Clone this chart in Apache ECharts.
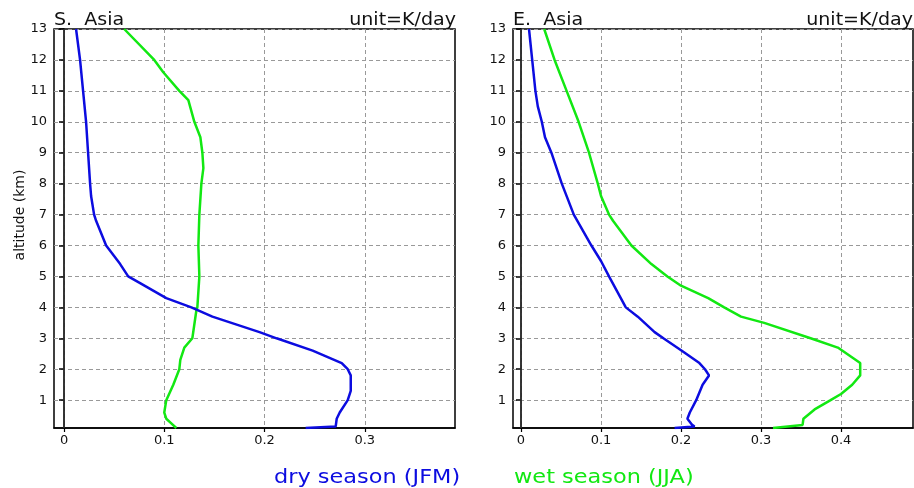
<!DOCTYPE html>
<html><head><meta charset="utf-8">
<script src="https://cdn.jsdelivr.net/npm/echarts@6/dist/echarts.min.js"></script>
<style>html,body{margin:0;padding:0;background:#fff}#c{width:914px;height:488px}</style>
</head><body><div id="c"></div>
<script>
// S. Asia, dry season (JFM)
const sDryAlt = [13, 12, 11, 10, 9, 8, 7.6, 7, 6.8, 6, 5.4, 5, 4.8, 4.3, 4, 3.7, 3.2, 3, 2.6, 2.2, 2, 1.8, 1.3, 1, 0.6, 0.4, 0.15, 0.1];
const sDryVal = [0.012, 0.016, 0.019, 0.022, 0.024, 0.026, 0.027, 0.030, 0.032, 0.042, 0.056, 0.064, 0.075, 0.102, 0.127, 0.148, 0.195, 0.212, 0.248, 0.277, 0.283, 0.286, 0.286, 0.283, 0.275, 0.272, 0.271, 0.241];
// S. Asia, wet season (JJA)
const sWetAlt = [13, 12, 11.6, 11, 10.7, 10, 9.5, 9, 8.5, 8, 7, 6, 5, 4, 3.9, 3, 2.7, 2.3, 2, 1.5, 1, 0.6, 0.4, 0.25, 0.1];
const sWetVal = [0.060, 0.090, 0.099, 0.115, 0.124, 0.130, 0.136, 0.138, 0.139, 0.137, 0.135, 0.134, 0.135, 0.133, 0.132, 0.128, 0.120, 0.116, 0.115, 0.109, 0.102, 0.100, 0.102, 0.107, 0.112];
// E. Asia, dry season (JFM)
const eDryAlt = [13, 12, 11, 10.5, 10, 9.5, 9, 8, 7, 6, 5.5, 5, 4, 3.7, 3.2, 3, 2.6, 2.2, 2, 1.8, 1.5, 1, 0.6, 0.4, 0.2, 0.15, 0.1];
const eDryVal = [0.010, 0.014, 0.018, 0.021, 0.026, 0.030, 0.038, 0.051, 0.066, 0.088, 0.100, 0.110, 0.131, 0.146, 0.167, 0.178, 0.201, 0.223, 0.230, 0.235, 0.227, 0.219, 0.211, 0.208, 0.214, 0.217, 0.192];
// E. Asia, wet season (JJA)
const eWetAlt = [13, 12, 11, 10, 9, 8, 7.6, 7, 6.8, 6, 5.4, 5, 4.7, 4.3, 4, 3.7, 3.5, 3, 2.7, 2.2, 2, 1.8, 1.5, 1.2, 1, 0.7, 0.4, 0.2, 0.15, 0.1];
const eWetVal = [0.029, 0.042, 0.057, 0.072, 0.085, 0.096, 0.100, 0.110, 0.115, 0.138, 0.163, 0.183, 0.200, 0.234, 0.254, 0.275, 0.304, 0.362, 0.396, 0.424, 0.424, 0.424, 0.414, 0.400, 0.387, 0.367, 0.353, 0.352, 0.354, 0.315];

const altTicks = [1,2,3,4,5,6,7,8,9,10,11,12,13];
const sXTicks = [0, 0.1, 0.2, 0.3];
const eXTicks = [0, 0.1, 0.2, 0.3, 0.4];
const panelTitles = ['S.  Asia', 'E.  Asia'];
const unitLabel = 'unit=K/day';
const yName = 'altitude (km)';
const legendDry = 'dry season (JFM)';
const legendWet = 'wet season (JJA)';

const BLUE = '#0c0ce0', GREEN = '#12e812';
const FONT = 'DejaVu Sans';
const zip = (v, a) => v.map((x, i) => [x, a[i]]);
const fmt = v => (Math.abs(v) < 1e-9 ? '0' : (+v.toFixed(2)).toString());

function xAxis(idx, max, ticks) {
  return {
    type: 'value', gridIndex: idx, min: -0.01, max: max,
    axisLine: {show: true, lineStyle: {color: '#000', width: 1.5}},
    axisTick: {show: true, customValues: ticks, length: 4, lineStyle: {color: '#000', width: 1.2}},
    axisLabel: {customValues: ticks, formatter: fmt, color: '#111', fontFamily: FONT, fontSize: 13, margin: 6},
    splitLine: {show: true, lineStyle: {color: '#999', type: [4, 3], width: 1}}
  };
}
function yAxis(idx) {
  return {
    type: 'value', gridIndex: idx, min: 0.1, max: 13,
    axisLine: {show: true, lineStyle: {color: '#000', width: 1.5}},
    axisTick: {show: true, customValues: altTicks, length: 5, lineStyle: {color: '#000', width: 1.5}},
    axisLabel: {customValues: altTicks, color: '#111', fontFamily: FONT, fontSize: 13, margin: 7},
    splitLine: {show: true, lineStyle: {color: '#999', type: [4, 3], width: 1}}
  };
}
function line(name, data, color, idx, zero) {
  const s = {
    name, type: 'line', xAxisIndex: idx, yAxisIndex: idx, data, symbol: 'none',
    lineStyle: {color, width: 2.5}, itemStyle: {color}, silent: true, z: 5, clip: true
  };
  if (zero) s.markLine = {silent: true, symbol: 'none', label: {show: false},
    lineStyle: {color: '#333', type: 'solid', width: 1.5}, data: [{xAxis: 0}]};
  return s;
}

const chart = echarts.init(document.getElementById('c'), null, {renderer: 'canvas'});
chart.setOption({
  animation: false,
  backgroundColor: '#fff',
  grid: [
    {left: 54, top: 29, width: 401, height: 399, show: true, borderColor: '#000', borderWidth: 1.5, backgroundColor: 'transparent'},
    {left: 513, top: 29, width: 400, height: 399, show: true, borderColor: '#000', borderWidth: 1.5, backgroundColor: 'transparent'}
  ],
  xAxis: [xAxis(0, 0.39, sXTicks), xAxis(1, 0.49, eXTicks)],
  yAxis: [yAxis(0), yAxis(1)],
  graphic: [
    {type: 'text', x: 20, y: 215, rotation: Math.PI / 2, silent: true,
      style: {text: yName, fontFamily: FONT, fontSize: 14, fill: '#111', align: 'center', verticalAlign: 'middle'}},
    {type: 'text', left: 54, top: 12, silent: true, scaleX: 1.12,
      style: {text: panelTitles[0], fontFamily: FONT, fontSize: 17, fill: '#111'}},
    {type: 'text', left: 513, top: 12, silent: true, scaleX: 1.12,
      style: {text: panelTitles[1], fontFamily: FONT, fontSize: 17, fill: '#111'}},
    {type: 'text', right: 914 - 456, top: 12, silent: true, scaleX: 1.12,
      style: {text: unitLabel, fontFamily: FONT, fontSize: 17, fill: '#111'}},
    {type: 'text', right: 1, top: 12, silent: true, scaleX: 1.12,
      style: {text: unitLabel, fontFamily: FONT, fontSize: 17, fill: '#111'}},
    {type: 'text', left: 274, top: 469, silent: true, scaleX: 1.18,
      style: {text: legendDry, fontFamily: FONT, fontSize: 19, fill: BLUE}},
    {type: 'text', left: 514, top: 469, silent: true, scaleX: 1.18,
      style: {text: legendWet, fontFamily: FONT, fontSize: 19, fill: GREEN}}
  ],
  series: [
    line(legendWet, zip(sWetVal, sWetAlt), GREEN, 0, true),
    line(legendDry, zip(sDryVal, sDryAlt), BLUE, 0, false),
    line(legendWet, zip(eWetVal, eWetAlt), GREEN, 1, true),
    line(legendDry, zip(eDryVal, eDryAlt), BLUE, 1, false)
  ]
});
</script></body></html>
